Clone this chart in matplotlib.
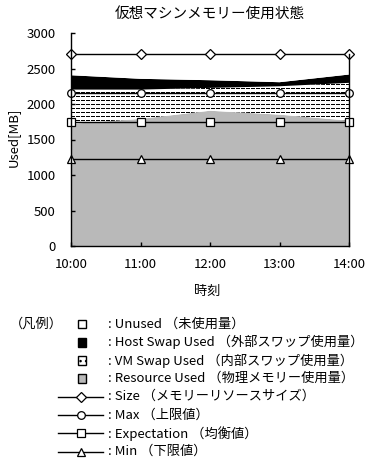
import matplotlib
matplotlib.use("Agg")
import matplotlib.pyplot as plt
from matplotlib.patches import Rectangle
from matplotlib.lines import Line2D
import numpy as np

plt.rcParams['font.family'] = ['Noto Sans CJK JP', 'DejaVu Sans']

times = ['10:00', '11:00', '12:00', '13:00', '14:00']
resource_used = [1720, 1790, 1905, 1850, 1765]
vm_swap_used = [483, 413, 322, 400, 533]
host_swap_used = [202, 152, 108, 57, 117]
size = [2700, 2700, 2700, 2700, 2700]
max_val = [2160, 2160, 2160, 2160, 2160]
expectation = [1750, 1750, 1750, 1750, 1750]
min_val = [1220, 1220, 1220, 1220, 1220]

legend_labels = [
    ': Unused （未使用量）',
    ': Host Swap Used （外部スワップ使用量）',
    ': VM Swap Used （内部スワップ使用量）',
    ': Resource Used （物理メモリー使用量）',
    ': Size （メモリーリソースサイズ）',
    ': Max （上限値）',
    ': Expectation （均衡値）',
    ': Min （下限値）',
]

gray = '#b9b9b9'
x = np.arange(len(times))
r = np.array(resource_used)
v = r + np.array(vm_swap_used)
h = v + np.array(host_swap_used)
s = np.array(size)

W, H = 387, 466
fig = plt.figure(figsize=(W / 100, H / 100), dpi=100)
ax = fig.add_axes([71 / W, 1 - 246 / H, (349 - 71) / W, (246 - 33) / H])

ax.fill_between(x, 0, r, facecolor=gray, linewidth=0, zorder=1)
vm = ax.fill_between(x, r, v, facecolor='white', linewidth=0, zorder=1)
ax.fill_between(x, v, h, facecolor='black', linewidth=0, zorder=1)
ax.fill_between(x, h, s, facecolor='white', linewidth=0, zorder=1)

# dotted pattern of the VM swap band
clip = (vm.get_paths()[0], ax.transData)
for yy in np.arange(28, 3000, 56.5):
    ln = ax.axhline(yy, color='black', lw=0.75, linestyle=(0, (2.9, 1.9)),
                    antialiased=False, zorder=2)
    ln.set_clip_path(*clip)

markers = [('D', 5), ('o', 5.5), ('s', 5.2), ('^', 5.5)]
series = [size, max_val, expectation, min_val]
for ser, (m, ms) in zip(series, markers):
    ax.plot(x, ser, marker=m, markersize=ms, color='black', lw=1,
            markerfacecolor='white', markeredgecolor='black', markeredgewidth=0.9,
            clip_on=False, zorder=5)

ax.set_xlim(0, 4)
ax.set_ylim(0, 3000)
ax.set_xticks(x)
ax.set_xticklabels(times)
ax.set_yticks(np.arange(0, 3001, 500))
ax.tick_params(direction='in', length=3, width=1, labelsize=9.5)
ax.tick_params(axis='y', pad=11)
ax.tick_params(axis='x', pad=9)
ax.spines['top'].set_visible(False)
ax.spines['right'].set_bounds(0, size[-1])
for sp in ax.spines.values():
    sp.set_linewidth(1)
    sp.set_zorder(6)
ax.set_facecolor('none')

fig.text(210 / W, 1 - 14 / H, '仮想マシンメモリー使用状態', ha='center', va='center', fontsize=10.5)
fig.text(207 / W, 1 - 291 / H, '時刻', ha='center', va='center', fontsize=9.5)
fig.text(13 / W, 1 - 137 / H, 'Used[MB]', ha='center', va='center', rotation=90, fontsize=9.5)

# legend drawn in pixel coordinates
lg = fig.add_axes([0, 0, 1, 1])
lg.set_xlim(0, W)
lg.set_ylim(H, 0)
lg.axis('off')
lg.text(10, 324, '（凡例）', va='center', fontsize=9.5)
rows = [324, 342.3, 360.5, 378.5, 396.7, 415, 433.3, 451.7]
box = 8.5
patch_styles = [dict(facecolor='white'), dict(facecolor='black'),
                dict(facecolor='white', hatch='...'), dict(facecolor=gray)]
for yy, st in zip(rows[:4], patch_styles):
    lg.add_patch(Rectangle((82 - box / 2, yy - box / 2), box, box, edgecolor='black',
                           linewidth=1, **st))
for yy, (m, ms) in zip(rows[4:], markers):
    lg.add_line(Line2D([58, 103], [yy, yy], color='black', lw=1))
    lg.add_line(Line2D([80.5], [yy], marker=m, markersize=ms, markerfacecolor='white',
                       markeredgecolor='black', markeredgewidth=0.9, linestyle='none'))
for yy, lab in zip(rows, legend_labels):
    lg.text(108, yy, lab, va='center', fontsize=9.5)

fig.savefig('out.png', dpi=100)
